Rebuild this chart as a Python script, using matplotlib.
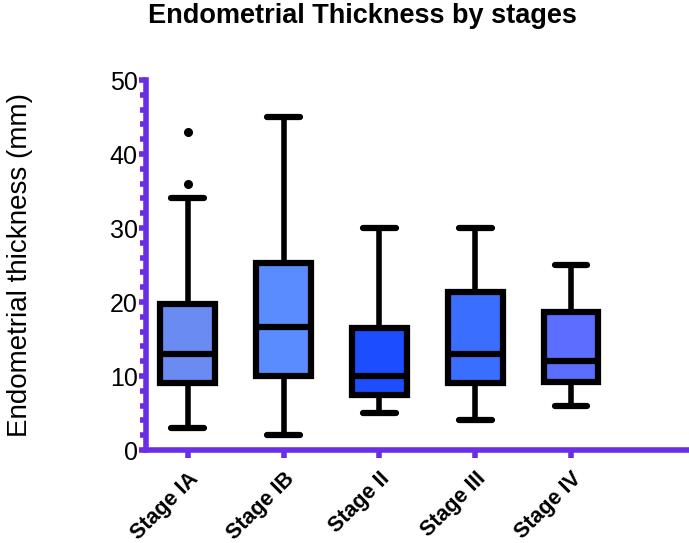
import matplotlib
matplotlib.use("Agg")
import matplotlib.pyplot as plt
from matplotlib.ticker import MultipleLocator

plt.rcParams['font.family'] = ['Liberation Sans', 'DejaVu Sans']

categories = ["Stage IA", "Stage IB", "Stage II", "Stage III", "Stage IV"]
whisker_low = [3, 2, 5, 4, 6]
q1 = [9, 10, 7.5, 9, 9.2]
median = [13, 16.6, 10, 13, 12]
q3 = [19.7, 25.3, 16.5, 21.4, 18.7]
whisker_high = [34, 45, 30, 30, 25]
outliers = [[36, 43], [], [], [], []]
colors = ["#6A8CF2", "#5B8CFF", "#1C4DFF", "#3A6EFF", "#5B6EFF"]

purple = "#6B2DE6"

fig = plt.figure(figsize=(6.89, 5.43), dpi=100)
ax = fig.add_axes([146/689, 93/543, 1 - 146/689, (450-80)/543])

stats = []
for i, c in enumerate(categories):
    stats.append(dict(med=median[i], q1=q1[i], q3=q3[i],
                      whislo=whisker_low[i], whishi=whisker_high[i],
                      fliers=outliers[i], label=c))

positions = list(range(1, len(categories) + 1))
bp = ax.bxp(stats, positions=positions, widths=0.57, patch_artist=True,
            showfliers=True,
            boxprops=dict(linewidth=4.5, edgecolor='black'),
            medianprops=dict(color='black', linewidth=4.5, solid_capstyle='butt'),
            whiskerprops=dict(color='black', linewidth=4),
            capprops=dict(color='black', linewidth=4.5, solid_capstyle='round'),
            flierprops=dict(marker='o', markerfacecolor='black', markeredgecolor='black', markersize=5.5))
for patch, col in zip(bp['boxes'], colors):
    patch.set_facecolor(col)
for cap in bp['caps']:
    x = cap.get_xdata()
    mid = (x[0] + x[1]) / 2
    cap.set_xdata([mid - 0.17, mid + 0.17])

ax.set_xlim(1 - (187.7 - 146) / 96, 5 + (689 - 571) / 96)
ax.set_ylim(0, 50)

for s in ['top', 'right']:
    ax.spines[s].set_visible(False)
for s in ['left', 'bottom']:
    ax.spines[s].set_color(purple)
    ax.spines[s].set_linewidth(4)

ax.yaxis.set_major_locator(MultipleLocator(10))
ax.yaxis.set_minor_locator(MultipleLocator(2))
ax.tick_params(axis='y', which='major', direction='out', length=5, width=4, color=purple,
               labelsize=18, pad=1)
ax.tick_params(axis='y', which='minor', direction='out', length=4, width=4, color=purple)
ax.tick_params(axis='x', which='major', direction='out', length=6, width=4, color=purple, pad=7)

ax.set_xticks(positions)
ax.set_xticklabels(categories, rotation=45, ha='right', rotation_mode='anchor',
                   fontsize=15.5, fontweight='bold')

ax.set_ylabel("Endometrial thickness (mm)", fontsize=20)
ax.yaxis.set_label_coords((33 - 146) / 543, 0.5)
fig.text(362/689, 1 - 16/543, "Endometrial Thickness by stages", ha='center', va='center',
         fontsize=19.5, fontweight='bold')

fig.savefig("out.png", dpi=100)
